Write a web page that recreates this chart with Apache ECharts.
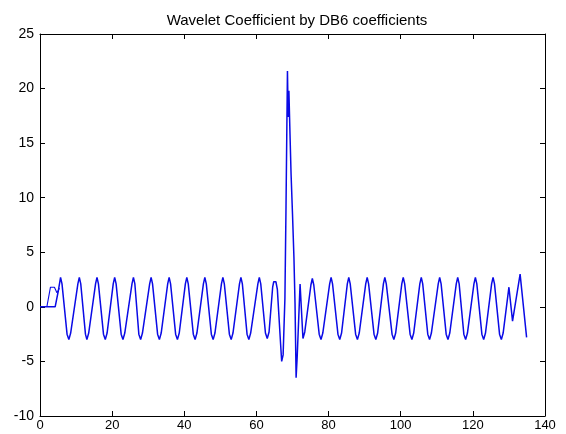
<!DOCTYPE html>
<html>
<head>
<meta charset="utf-8">
<script src="https://cdn.jsdelivr.net/npm/echarts@6/dist/echarts.min.js"></script>
<style>
html,body{margin:0;padding:0;background:#fff;}
#c{width:566px;height:434px;}
</style>
</head>
<body>
<div id="c"></div>
<script>
// Main signal as [x, coefficient] points
const mainPoints = [
  [0, 0], [4.2, 0], [5.1, 1.5], [5.7, 2.7], [6.1, 2.1], [7.5, -2.5], [8.0, -3.0], [8.5, -2.4],
  [10.5, 2.1], [10.9, 2.7], [11.3, 2.1], [12.6, -2.5], [13.0, -3.0], [13.5, -2.4],
  [15.4, 2.1], [15.8, 2.7], [16.2, 2.1], [17.6, -2.5], [18.1, -3.0], [18.6, -2.4],
  [20.3, 2.1], [20.7, 2.7], [21.1, 2.1], [22.5, -2.5], [23.0, -3.0], [23.5, -2.4],
  [25.5, 2.1], [25.9, 2.7], [26.3, 2.1], [27.4, -2.5], [27.9, -3.0], [28.4, -2.4],
  [30.4, 2.1], [30.8, 2.7], [31.2, 2.1], [32.6, -2.5], [33.1, -3.0], [33.6, -2.4],
  [35.4, 2.1], [35.8, 2.7], [36.2, 2.1], [37.6, -2.5], [38.1, -3.0], [38.6, -2.4],
  [40.3, 2.1], [40.7, 2.7], [41.1, 2.1], [42.5, -2.5], [43.0, -3.0], [43.5, -2.4],
  [45.3, 2.1], [45.7, 2.7], [46.1, 2.1], [47.5, -2.5], [48.0, -3.0], [48.5, -2.4],
  [50.3, 2.1], [50.7, 2.7], [51.1, 2.1], [52.5, -2.5], [53.0, -3.0], [53.5, -2.4],
  [55.3, 2.1], [55.7, 2.7], [56.1, 2.1], [57.4, -2.5], [57.9, -3.0], [58.4, -2.4],
  [60.4, 2.1], [60.8, 2.7], [61.2, 2.1], [62.5, -2.4], [63.0, -2.9], [63.5, -2.3],
  [64.5, 1.8], [64.8, 2.3], [65.4, 2.3], [65.8, 1.6], [66.7, -3.4], [67.0, -5.0], [67.4, -4.4],
  [67.9, 0.8], [68.2, 9.1], [68.6, 21.6], [68.8, 17.4], [69.0, 19.8], [69.3, 15.9], [69.6, 12.2],
  [70.0, 8.5], [70.4, 4.5], [70.7, 0.3], [71.0, -6.5], [71.3, -4.6], [72.1, 2.1], [72.9, -2.9], [73.4, -2.3],
  [75.1, 2.0], [75.5, 2.6], [75.9, 2.0], [77.4, -2.5], [77.9, -3.0], [78.4, -2.4],
  [80.3, 2.1], [80.7, 2.7], [81.1, 2.1], [82.6, -2.5], [83.1, -3.0], [83.6, -2.4],
  [85.2, 2.1], [85.6, 2.7], [86.0, 2.1], [87.5, -2.5], [88.0, -3.0], [88.5, -2.4],
  [90.3, 2.1], [90.7, 2.7], [91.1, 2.1], [92.6, -2.5], [93.1, -3.0], [93.6, -2.4],
  [95.2, 2.1], [95.6, 2.7], [96.0, 2.1], [97.6, -2.5], [98.1, -3.0], [98.6, -2.4],
  [100.3, 2.1], [100.7, 2.7], [101.1, 2.1], [102.6, -2.5], [103.1, -3.0], [103.6, -2.4],
  [105.3, 2.1], [105.7, 2.7], [106.1, 2.1], [107.5, -2.5], [108.0, -3.0], [108.5, -2.4],
  [110.4, 2.1], [110.8, 2.7], [111.2, 2.1], [112.6, -2.5], [113.1, -3.0], [113.6, -2.4],
  [115.4, 2.1], [115.8, 2.7], [116.2, 2.1], [117.5, -2.5], [118.0, -3.0], [118.5, -2.4],
  [120.3, 2.1], [120.7, 2.7], [121.1, 2.1], [122.5, -2.5], [123.0, -3.0], [123.5, -2.4],
  [125.2, 2.1], [125.6, 2.7], [126.0, 2.1], [127.4, -2.5], [127.9, -3.0], [128.4, -2.4],
  [130.0, 1.8], [131.0, -1.3], [133.1, 3.0], [134.9, -2.8]
];
// Small start-up transient bump
const bumpX = [1.9, 2.9, 4.0, 4.7, 5.4];
const bumpY = [0, 1.8, 1.8, 1.3, 1.7];
// Axis ticks
const xTicks = [0, 20, 40, 60, 80, 100, 120, 140];
const yTicks = [-10, -5, 0, 5, 10, 15, 20, 25];
const titleText = 'Wavelet Coefficient by DB6 coefficients';

const font = 'Liberation Sans, Arial, Helvetica, sans-serif';
const lineStyle = { color: '#000', width: 1 };

const chart = echarts.init(document.getElementById('c'), null, { renderer: 'canvas' });
chart.setOption({
  backgroundColor: '#ffffff',
  animation: false,
  title: {
    text: titleText, left: 292, top: 8, textAlign: 'center',
    textStyle: { fontFamily: font, fontSize: 15, fontWeight: 'normal', color: '#000' }
  },
  grid: { left: 40, right: 21, top: 34, bottom: 18, containLabel: false },
  xAxis: [
    { type: 'value', min: xTicks[0], max: xTicks[xTicks.length - 1], interval: 20,
      axisLine: { show: true, onZero: false, lineStyle },
      axisTick: { show: true, inside: true, length: 5, lineStyle },
      axisLabel: { color: '#000', fontFamily: font, fontSize: 13, margin: 3 },
      splitLine: { show: false } },
    { type: 'value', position: 'top', min: xTicks[0], max: xTicks[xTicks.length - 1], interval: 20,
      axisLine: { show: true, onZero: false, lineStyle },
      axisTick: { show: true, inside: true, length: 5, lineStyle },
      axisLabel: { show: false }, splitLine: { show: false } }
  ],
  yAxis: [
    { type: 'value', min: yTicks[0], max: yTicks[yTicks.length - 1], interval: 5,
      axisLine: { show: true, onZero: false, lineStyle },
      axisTick: { show: true, inside: true, length: 5, lineStyle },
      axisLabel: { color: '#000', fontFamily: font, fontSize: 14, margin: 6 },
      splitLine: { show: false } },
    { type: 'value', position: 'right', min: yTicks[0], max: yTicks[yTicks.length - 1], interval: 5,
      axisLine: { show: true, onZero: false, lineStyle },
      axisTick: { show: true, inside: true, length: 5, lineStyle },
      axisLabel: { show: false }, splitLine: { show: false } }
  ],
  series: [
    { type: 'line', data: mainPoints, showSymbol: false, symbol: 'none',
      lineStyle: { color: '#0a0ae6', width: 1.5 }, xAxisIndex: 0, yAxisIndex: 0 },
    { type: 'line', data: bumpX.map((x, i) => [x, bumpY[i]]), showSymbol: false, symbol: 'none',
      lineStyle: { color: '#0a0ae6', width: 1.1 }, xAxisIndex: 0, yAxisIndex: 0 }
  ]
});
</script>
</body>
</html>
